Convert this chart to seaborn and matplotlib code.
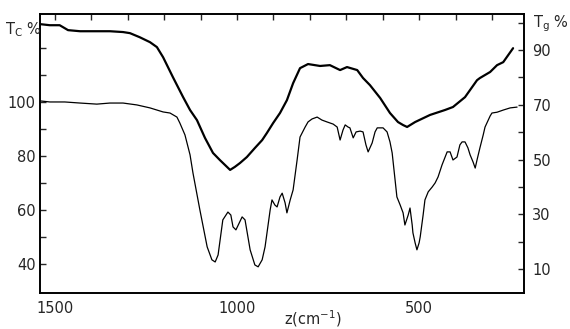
import numpy as np
import pandas as pd
import matplotlib
matplotlib.use("Agg")
import matplotlib.pyplot as plt
import seaborn as sns

# Lower curve: Tc % (left axis)
tc_wavenumber = [1541, 1514, 1473, 1431, 1385, 1349, 1313, 1275, 1239, 1203, 1184, 1165,
                 1157, 1143, 1129, 1121, 1102, 1082, 1069, 1060, 1052, 1039, 1025, 1017,
                 1011, 1003, 986, 978, 964, 951, 942, 931, 923, 909, 904, 896, 890, 882,
                 876, 868, 863, 854, 846, 835, 827, 813, 805, 794, 780, 767, 753, 736,
                 725, 717, 709, 703, 695, 690, 681, 673, 662, 654, 646, 640, 629, 621,
                 615, 599, 588, 580, 574, 566, 561, 552, 544, 539, 530, 525, 519, 517,
                 511, 506, 500, 497, 489, 484, 475, 464, 456, 448, 437, 423, 415, 407,
                 396, 388, 382, 374, 366, 360, 352, 346, 341, 333, 324, 319, 305, 300,
                 286, 269, 250, 231]
tc_values = [100.3, 99.9, 99.9, 99.5, 99.1, 99.5, 99.5, 98.8, 97.7, 96.2, 95.8, 94.3,
             92.1, 87.7, 80.3, 73.6, 59.9, 46.2, 41.4, 40.6, 43.2, 56.2, 59.1, 58.0,
             53.6, 52.5, 57.3, 56.2, 45.1, 39.5, 38.8, 41.4, 46.2, 59.9, 63.6, 61.7,
             61.0, 64.7, 66.1, 62.5, 58.8, 63.6, 67.3, 78.4, 86.9, 90.6, 92.5, 93.6,
             94.3, 93.2, 92.5, 91.7, 90.6, 85.8, 89.5, 91.4, 90.6, 90.3, 86.6, 88.8,
             89.1, 88.8, 84.0, 81.4, 84.7, 88.8, 90.3, 90.3, 88.8, 85.1, 81.0, 71.0,
             64.7, 61.7, 58.8, 54.3, 58.0, 60.6, 54.3, 51.4, 47.7, 45.1, 47.7, 49.9,
             58.0, 63.6, 66.6, 68.4, 69.9, 72.1, 76.6, 81.4, 81.4, 78.4, 79.5, 84.0,
             85.1, 85.1, 82.9, 80.3, 77.7, 75.4, 78.4, 82.9, 87.7, 90.6, 94.7, 95.8,
             96.1, 96.9, 97.7, 98.0]

# Upper curve: Tg % (right axis)
tg_wavenumber = [1541, 1514, 1487, 1478, 1464, 1431, 1385, 1349, 1313, 1294, 1267, 1239,
                 1220, 1203, 1176, 1148, 1129, 1110, 1088, 1066, 1047, 1033, 1019, 1006,
                 992, 973, 951, 931, 918, 901, 882, 863, 846, 827, 805, 772, 745, 717,
                 698, 670, 654, 635, 607, 580, 558, 544, 533, 511, 470, 429, 407, 374,
                 341, 333, 305, 286, 269, 242]
tg_values = [99.5, 99.1, 99.1, 98.4, 97.3, 96.9, 96.9, 96.9, 96.6, 96.2, 94.7, 92.9,
             91.1, 87.4, 80.1, 72.8, 68.1, 64.4, 57.9, 52.4, 49.8, 48.0, 46.2, 47.3,
             48.7, 50.9, 54.2, 57.1, 59.7, 63.3, 67.0, 71.7, 77.9, 83.4, 84.9, 84.2,
             84.5, 82.7, 83.8, 82.7, 79.8, 77.2, 72.5, 67.0, 63.7, 62.6, 61.9, 63.7,
             66.3, 68.1, 69.2, 72.8, 79.0, 79.8, 82.0, 84.5, 85.6, 90.7]

x_major = [1500, 1000, 500]
left_labels = [40, 60, 80, 100]
right_labels = [10, 30, 50, 70, 90]

sns.set_style("white")
plt.rcParams['font.family'] = ['DejaVu Sans']

fig = plt.figure(figsize=(5.7, 3.29), dpi=100)
ax = fig.add_axes([40/570, 36/329, 484/570, 279/329])
ax2 = ax.twinx()

df_c = pd.DataFrame({"z": tc_wavenumber, "T": tc_values})
df_g = pd.DataFrame({"z": tg_wavenumber, "T": tg_values})

sns.lineplot(data=df_c, x="z", y="T", ax=ax, color="black", linewidth=0.9, sort=False)
sns.lineplot(data=df_g, x="z", y="T", ax=ax2, color="black", linewidth=1.6, sort=False)

ax.set_xlim(1541, 212)
ax.set_ylim(29.1, 132.5)
ax2.set_ylim(1.2, 103.2)

ax.set_xticks(list(range(1500, 299, -100)))
ax.set_xticklabels([str(v) if v in x_major else "" for v in range(1500, 299, -100)])
ax.set_yticks(list(range(40, 121, 10)))
ax.set_yticklabels([str(v) if v in left_labels else "" for v in range(40, 121, 10)])
ax2.set_yticks(list(range(10, 101, 10)))
ax2.set_yticklabels([str(v) if v in right_labels else "" for v in range(10, 101, 10)])

ax.tick_params(axis="x", direction="in", length=4, width=1, top=True, labelsize=10.5, pad=6)
ax.tick_params(axis="y", direction="in", length=4, width=1, labelsize=10.5, pad=3)
ax2.tick_params(axis="y", direction="in", length=4, width=1, labelsize=10.5, pad=6)

for a in (ax, ax2):
    for s in a.spines.values():
        s.set_visible(True)
        s.set_color("black")
        s.set_linewidth(1.2)
    a.set_xlabel("")
    a.set_ylabel("")

fig.text(5/570, 1 - 30/329, r"T$_\mathrm{C}$ %", fontsize=10.5, ha="left", va="center")
fig.text(533/570, 1 - 24/329, r"T$_\mathrm{g}$ %", fontsize=10.5, ha="left", va="center")
fig.text(313/570, 1 - 319/329, r"z(cm$^{-1}$)", fontsize=10.5, ha="center", va="center")

fig.savefig("out.png", dpi=100, facecolor="white")
